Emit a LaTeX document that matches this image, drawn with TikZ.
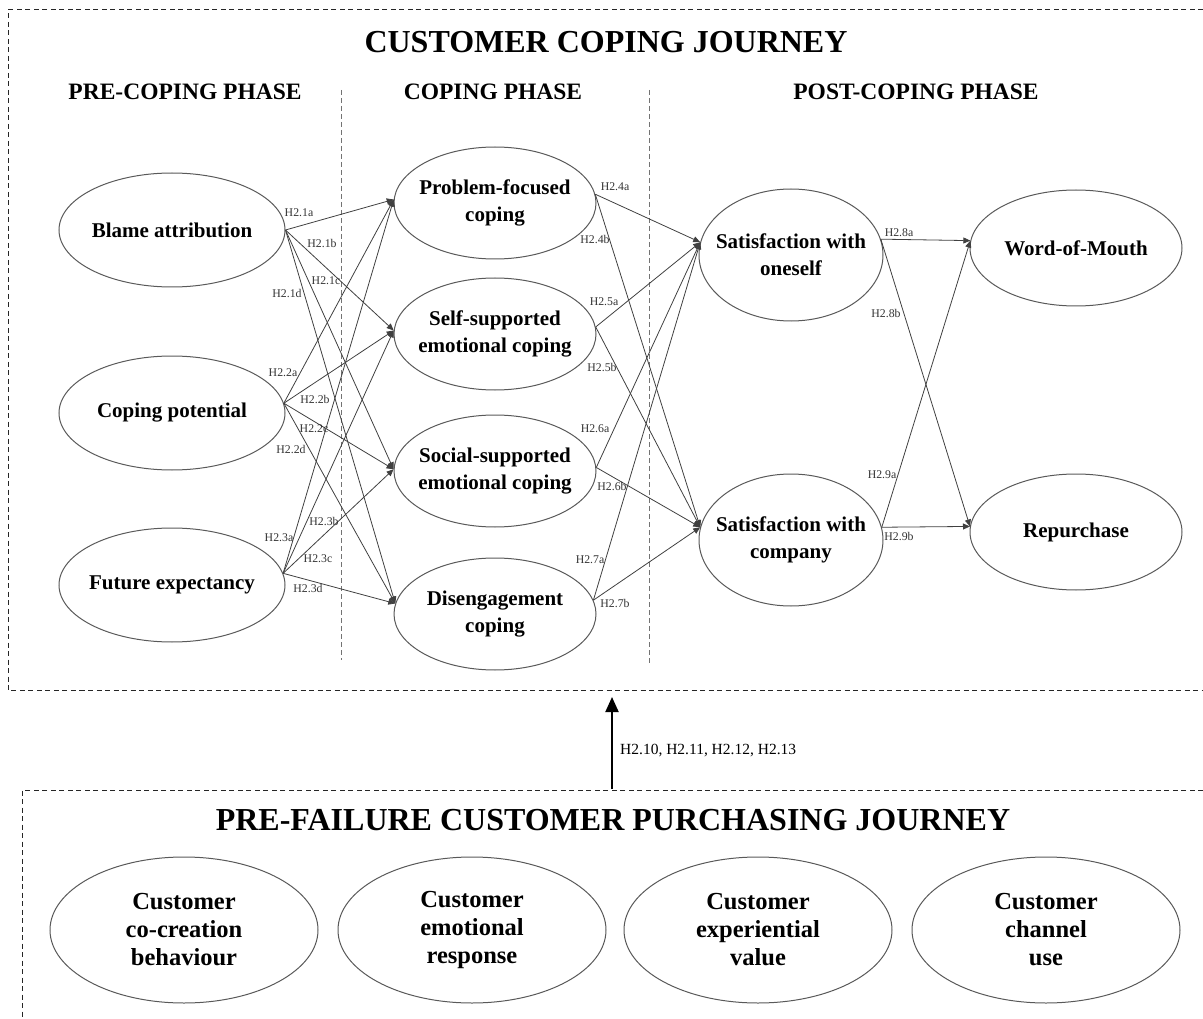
\documentclass[tikz,border=0pt]{standalone}
\usepackage{fontspec}
\setmainfont{Liberation Serif}
\usetikzlibrary{shapes.geometric,arrows.meta}
\tikzset{
  oval/.style={ellipse,draw=black!65,line width=1pt,inner sep=0pt},
  ovaltext/.style={align=center,font=\bfseries\fontsize{21}{27}\selectfont},
  bigovaltext/.style={align=center,font=\bfseries\fontsize{24.5}{28}\selectfont},
  hyp/.style={font=\fontsize{11.8}{13}\selectfont,inner sep=0pt,text=black!80},
  conn/.style={draw=black!75,line width=0.8pt,-{Triangle[length=7pt,width=6pt]}},
  boxline/.style={draw=black!85,line width=1pt,dash pattern=on 5pt off 3.5pt},
  phaseline/.style={draw=black!55,line width=0.8pt,dash pattern=on 5pt off 3pt},
  phasehead/.style={font=\bfseries\fontsize{23.5}{26}\selectfont},
  bigtitle/.style={font=\bfseries\fontsize{32}{36}\selectfont}
}
\begin{document}
\begin{tikzpicture}[x=1pt,y=-1pt]
\useasboundingbox (0,0) rectangle (1203,1019);
% boxes
\draw[boxline] (1203,10) -- (8,10) -- (8,690) -- (1203,690);
\draw[boxline] (1203,790) -- (22,790) -- (22,1019);
% titles
\node[bigtitle] (title) at (606,42) {CUSTOMER COPING JOURNEY};
\node[phasehead] (ph1) at (185,92) {PRE-COPING PHASE};
\node[phasehead] (ph2) at (493,92) {COPING PHASE};
\node[phasehead] (ph3) at (916,92) {POST-COPING PHASE};
\draw[phaseline] (341,90) -- (341,660);
\draw[phaseline] (649,90) -- (649,665);
% left column
\foreach \n/\y/\t in {bl/230/{Blame attribution},cp/413/{Coping potential},fe/585/{Future expectancy}}{
  \node[oval,minimum width=226pt,minimum height=114pt] (\n) at (172,\y) {};
  \node[ovaltext] (\n-t) at (172,\y) {\t};
}
% coping column
\foreach \n/\y/\t in {pf/203/{Problem-focused\\coping},ss/334/{Self-supported\\emotional coping},so/471/{Social-supported\\emotional coping},de/614/{Disengagement\\coping}}{
  \node[oval,minimum width=202pt,minimum height=112pt] (\n) at (495,\y) {};
  \node[ovaltext] (\n-t) at (495,\y) {\t};
}
% satisfaction column
\foreach \n/\y/\t in {s1/255/{Satisfaction with\\oneself},s2/540/{Satisfaction with\\company}}{
  \node[oval,minimum width=184pt,minimum height=132pt] (\n) at (791,\y) {};
  \node[ovaltext] (\n-t) at (791,\y) {\t};
}
% outcome column
\foreach \n/\y/\t in {wm/248/{Word-of-Mouth},rp/532/{Repurchase}}{
  \node[oval,minimum width=212pt,minimum height=116pt] (\n) at (1076,\y) {};
  \node[ovaltext] (\n-t) at (1076,\y) {\t};
}
% connectors
\foreach \s in {bl.east,cp.5,fe.6.5}{
  \foreach \e in {pf.178,ss.178,so.179,de.174}{
    \draw[conn] (\s) -- (\e);
  }
}
\foreach \s in {pf.5.6,ss.4.5,so.2,de.8}{
  \foreach \e in {s1.172,s2.172.5}{
    \draw[conn] (\s) -- (\e);
  }
}
\foreach \s in {s1.10,s2.8}{
  \foreach \e in {wm.176.7,rp.177}{
    \draw[conn] (\s) -- (\e);
  }
}
% hypothesis labels
\foreach \n/\x/\y/\t in {
  a1/299/213/H2.1a, b1/322/243/H2.1b, c1/326/281/H2.1c, d1/287/293/H2.1d,
  a2/283/373/H2.2a, b2/315/399/H2.2b, c2/314/429/H2.2c, d2/291/449/H2.2d,
  a3/279/538/H2.3a, b3/324/521/H2.3b, c3/318/559/H2.3c, d3/308/588/H2.3d,
  a4/615/187/H2.4a, b4/595/239/H2.4b, a5/604/302/H2.5a, b5/602/367/H2.5b,
  a6/595/429/H2.6a, b6/612/486/H2.6b, a7/590/560/H2.7a, b7/615/603/H2.7b,
  a8/899/233/H2.8a, b8/886/313/H2.8b, a9/882/475/H2.9a, b9/899/536/H2.9b}{
  \node[hyp] (h\n) at (\x,\y) {\t};
}
% big arrow
\coordinate (arrS) at (612,789);
\coordinate (arrE) at (612,697);
\draw[line width=2pt,-{Triangle[length=15pt,width=13pt]}] (arrS) -- (arrE);
\node[font=\fontsize{15.5}{18}\selectfont,anchor=west,inner sep=0pt] (arrlab) at (620,751) {H2.10, H2.11, H2.12, H2.13};
% bottom part
\node[bigtitle] (title2) at (613,820) {PRE-FAILURE CUSTOMER PURCHASING JOURNEY};
\foreach \n/\x/\t in {p1/184/{Customer\\co-creation\\behaviour},p2/472/{Customer\\emotional\\response},p3/758/{Customer\\experiential\\value},p4/1046/{Customer\\channel\\use}}{
  \node[oval,minimum width=268pt,minimum height=146pt] (\n) at (\x,930) {};
  \node[bigovaltext] (\n-t) at (\x,930) {\t};
}
\end{tikzpicture}
\end{document}
